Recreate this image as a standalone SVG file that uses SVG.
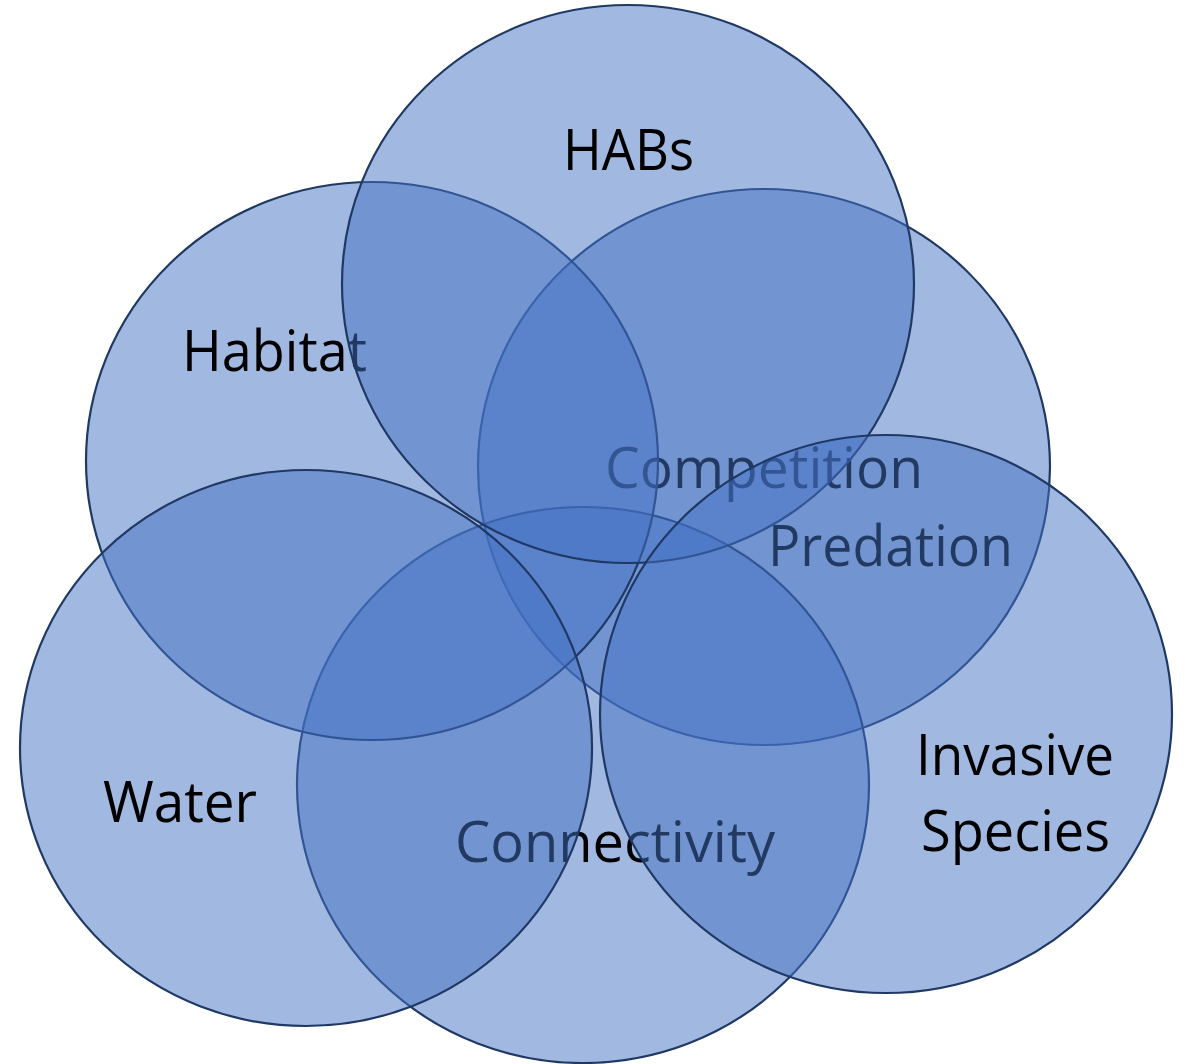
<svg xmlns="http://www.w3.org/2000/svg" width="1189" height="1064" viewBox="0 0 1189 1064">
<style>
.c{fill:#4472C4;fill-opacity:0.5;stroke:#1F3864;stroke-width:2.2}
.t{font-family:"Open Sans","Noto Sans","Liberation Sans",sans-serif;font-size:56px;fill:#000}
</style>
<rect width="1189" height="1064" fill="#fff"/>
<g id="competition">
<ellipse class="c" cx="764" cy="467" rx="286" ry="278"/>
<text class="t" x="605" y="488" textLength="318" lengthAdjust="spacingAndGlyphs">Competition</text>
<text class="t" x="768" y="566" textLength="245" lengthAdjust="spacingAndGlyphs">Predation</text>
</g>
<g id="connectivity">
<ellipse class="c" cx="583" cy="785" rx="286" ry="278"/>
<text class="t" x="455" y="862" textLength="320" lengthAdjust="spacingAndGlyphs">Connectivity</text>
</g>
<g id="habitat">
<ellipse class="c" cx="372" cy="461" rx="286" ry="279"/>
<text class="t" x="182" y="371" textLength="185" lengthAdjust="spacingAndGlyphs">Habitat</text>
</g>
<g id="habs">
<ellipse class="c" cx="628" cy="284" rx="286" ry="279"/>
<text class="t" x="563" y="170" textLength="131" lengthAdjust="spacingAndGlyphs">HABs</text>
</g>
<g id="water">
<ellipse class="c" cx="306" cy="748" rx="286" ry="278"/>
<text class="t" x="103" y="822" textLength="154" lengthAdjust="spacingAndGlyphs">Water</text>
</g>
<g id="invasive">
<ellipse class="c" cx="886" cy="714" rx="286" ry="279"/>
<text class="t" x="916" y="775" textLength="198" lengthAdjust="spacingAndGlyphs">Invasive</text>
<text class="t" x="921" y="851" textLength="189" lengthAdjust="spacingAndGlyphs">Species</text>
</g>
<g id="connectors"></g>
</svg>
